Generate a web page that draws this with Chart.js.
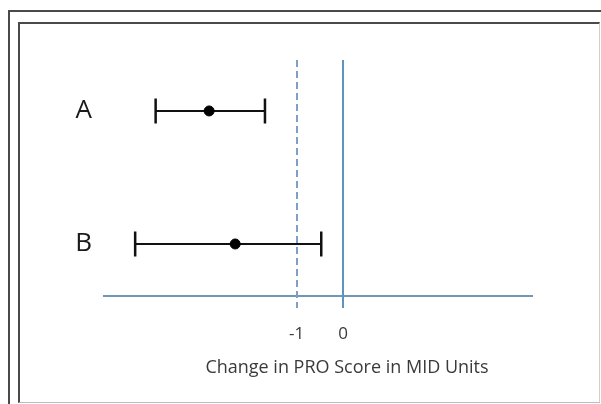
<!DOCTYPE html>
<html>
<head>
<meta charset="utf-8">
<script src="https://cdn.jsdelivr.net/npm/chart.js@4.4.1/dist/chart.umd.min.js"></script>
<style>
  html, body { margin: 0; padding: 0; background: #fff; }
  #wrap { position: relative; width: 601px; height: 404px; overflow: hidden; }
  #outer { position: absolute; left: 8px; top: 10px; width: 620px; height: 420px;
           border-left: 2px solid #4a4a4a; border-top: 2px solid #4a4a4a; }
  #inner { position: absolute; left: 18px; top: 22px; width: 579px; height: 378px;
           border-left: 2px solid #4a4a4a; border-top: 2px solid #4a4a4a;
           border-right: 1px solid #d0d0d0; border-bottom: 1px solid #bdbdbd; }
  canvas { position: absolute; left: 0; top: 0; }
</style>
</head>
<body>
<div id="wrap">
  <div id="outer"></div>
  <div id="inner"></div>
  <canvas id="c" width="601" height="404"></canvas>
</div>
<script>
// ---- data ----
const categories = ['A', 'B'];
const estimates  = [-2.88, -2.32];
const lowerCI    = [-4.03, -4.47];
const upperCI    = [-1.68, -0.47];
const xTickValues = [-1, 0];
const referenceLines = [-1, 0];   // dashed MID threshold, solid zero line
const xTitle = 'Change in PRO Score in MID Units';

const points = categories.map((c, i) => ({ x: estimates[i], y: i + 1 }));

const errorBarPlugin = {
  id: 'errorBars',
  beforeDatasetsDraw(chart) {
    const { ctx, chartArea, scales: { x, y } } = chart;
    ctx.save();
    // reference lines
    referenceLines.forEach((v, k) => {
      const px = Math.round(x.getPixelForValue(v));
      ctx.beginPath();
      ctx.lineWidth = 2;
      if (k === 0) {
        ctx.strokeStyle = '#7f9fc6';
        ctx.setLineDash([7, 4]);
      } else {
        ctx.strokeStyle = '#5f93c2';
        ctx.setLineDash([]);
      }
      ctx.moveTo(px, chartArea.top);
      ctx.lineTo(px, chartArea.bottom + 12);
      ctx.stroke();
    });
    ctx.setLineDash([]);
    // error bars
    ctx.strokeStyle = '#111';
    categories.forEach((c, i) => {
      const py = y.getPixelForValue(i + 1);
      const x1 = x.getPixelForValue(lowerCI[i]);
      const x2 = x.getPixelForValue(upperCI[i]);
      ctx.lineWidth = 2;
      ctx.beginPath();
      ctx.moveTo(x1, py);
      ctx.lineTo(x2, py);
      ctx.stroke();
      ctx.lineWidth = 2.5;
      ctx.beginPath();
      ctx.moveTo(x1, py - 12.5);
      ctx.lineTo(x1, py + 12.5);
      ctx.moveTo(x2, py - 12.5);
      ctx.lineTo(x2, py + 12.5);
      ctx.stroke();
    });
    ctx.restore();
  },
  afterDraw(chart) {
    const { ctx, chartArea } = chart;
    ctx.save();
    ctx.font = '18px "Open Sans"';
    ctx.fillStyle = '#3a3a3a';
    ctx.textAlign = 'center';
    ctx.textBaseline = 'middle';
    ctx.fillText(xTitle, chartArea.left + 243, chartArea.bottom + 72);
    ctx.restore();
  }
};

new Chart(document.getElementById('c'), {
  type: 'scatter',
  data: {
    datasets: [{
      data: points,
      backgroundColor: '#000',
      borderColor: '#000',
      pointRadius: 5,
      pointHoverRadius: 5
    }]
  },
  plugins: [errorBarPlugin],
  options: {
    responsive: false,
    animation: false,
    events: [],
    layout: { padding: { left: 0, right: 69, top: 60, bottom: 20 } },
    plugins: { legend: { display: false }, tooltip: { enabled: false } },
    scales: {
      x: {
        type: 'linear',
        min: -5.14,
        max: 4.06,
        afterBuildTicks: (s) => { s.ticks = xTickValues.map(v => ({ value: v })); },
        afterFit: (s) => { s.height = 88; },
        grid: { display: false, drawTicks: false },
        border: { display: true, color: '#6f98b8', width: 2 },
        ticks: {
          padding: 28,
          color: '#3a3a3a',
          font: { family: 'Open Sans', size: 17 },
          callback: (v) => String(v)
        },
        title: { display: false }
      },
      y: {
        type: 'linear',
        reverse: true,
        min: 0.617,
        max: 2.391,
        afterBuildTicks: (s) => { s.ticks = categories.map((c, i) => ({ value: i + 1 })); },
        afterFit: (s) => { s.width = 104; },
        grid: { display: false, drawTicks: false },
        border: { display: false },
        ticks: {
          padding: 12,
          color: '#1a1a1a',
          font: { family: 'Open Sans', size: 26 },
          callback: (v) => categories[Math.round(v) - 1] || ''
        }
      }
    }
  }
});
</script>
</body>
</html>
